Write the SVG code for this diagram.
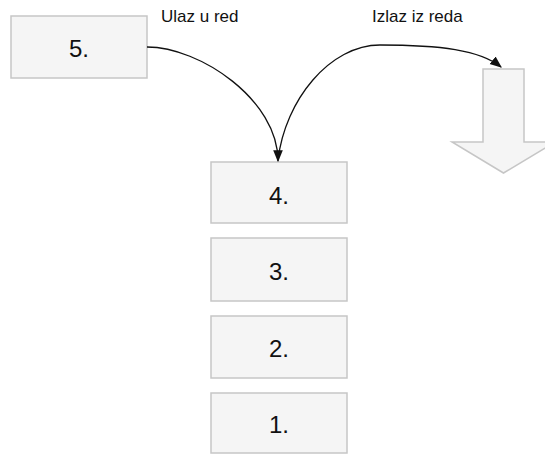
<svg xmlns="http://www.w3.org/2000/svg" width="545" height="454" viewBox="0 0 545 454">
<style>
.box{fill:#f5f5f5;stroke:#c6c6c6;stroke-width:1.5}
.num{font-family:"Liberation Sans",Arial,sans-serif;font-size:24px;fill:#111;text-anchor:middle}
.lbl{font-family:"Liberation Sans",Arial,sans-serif;font-size:17px;fill:#111}
.edge{fill:none;stroke:#111;stroke-width:1.3}
</style>
<defs>
<marker id="ah" viewBox="0 0 10 10" refX="9" refY="5" markerWidth="12" markerHeight="12" markerUnits="userSpaceOnUse" orient="auto">
<path d="M0,1 L10,5 L0,9 Z" fill="#111"/>
</marker>
</defs>
<rect width="545" height="454" fill="#fff"/>
<g id="n5"><rect class="box" x="11" y="16" width="136" height="62"/><text class="num" x="79" y="57">5.</text></g>
<g id="n4"><rect class="box" x="211" y="162" width="136" height="61"/><text class="num" x="279" y="204">4.</text></g>
<g id="n3"><rect class="box" x="211" y="238" width="136" height="63"/><text class="num" x="279" y="280">3.</text></g>
<g id="n2"><rect class="box" x="211" y="316" width="136" height="62"/><text class="num" x="279" y="357">2.</text></g>
<g id="n1"><rect class="box" x="211" y="393" width="136" height="60"/><text class="num" x="279" y="433">1.</text></g>
<g id="out"><path class="box" d="M483,69 H524 V142 H555 L503.5,173 L452,142 H483 Z"/></g>
<g id="labels">
<text class="lbl" x="161" y="22">Ulaz u red</text>
<text class="lbl" x="372" y="22">Izlaz iz reda</text>
</g>
<g id="edges">
<path class="edge" d="M147,47 C200,47 278,100 278,161" marker-end="url(#ah)"/>
<path class="edge" d="M278,160 C285,100 330,45 380,45 C440,45 480,50 501,67" marker-end="url(#ah)"/>
</g>
</svg>
